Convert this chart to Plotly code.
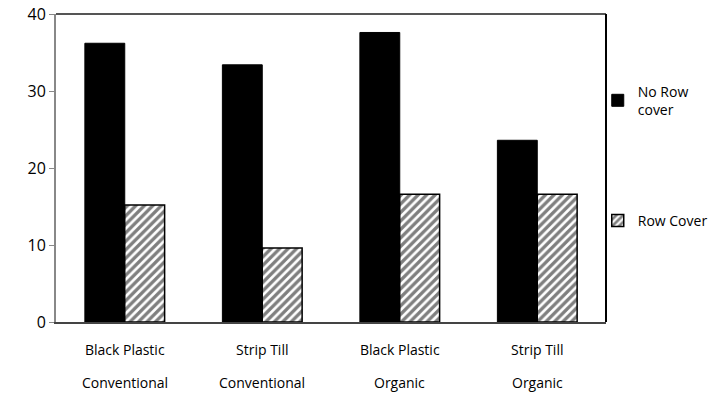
import plotly.graph_objects as go

treatments = ["Black Plastic", "Strip Till", "Black Plastic", "Strip Till"]
systems = ["Conventional", "Conventional", "Organic", "Organic"]
no_row_cover = [36.2, 33.4, 37.6, 23.6]
row_cover = [15.2, 9.6, 16.6, 16.6]
y_ticks = [0, 10, 20, 30, 40]

x = [0, 1, 2, 3]
font = "Open Sans, Liberation Sans, Arial"

fig = go.Figure()
fig.add_trace(go.Bar(
    x=x, y=no_row_cover, name="No Row<br>cover",
    marker=dict(color="black", line=dict(color="black", width=1)),
    legendgroup="a",
))
fig.add_trace(go.Bar(
    x=x, y=row_cover, name="Row Cover",
    marker=dict(color="white", line=dict(color="black", width=1.5),
                pattern=dict(shape="/", fgcolor="black", bgcolor="white",
                             size=6, solidity=0.55)),
    legendgroup="b",
))

# second row of category labels
for xi, s in zip(x, systems):
    fig.add_annotation(x=xi, y=-0.16, xref="x", yref="paper", text=s,
                       showarrow=False, yanchor="top",
                       font=dict(family=font, size=14, color="black"))

fig.update_layout(
    width=712, height=398,
    margin=dict(l=56, r=106, t=14, b=76, autoexpand=False),
    paper_bgcolor="white", plot_bgcolor="white",
    barmode="group", bargap=0.42, bargroupgap=0,
    font=dict(family=font, size=14, color="black"),
    showlegend=True,
    legend=dict(x=0.985, y=0.80, xanchor="left", yanchor="top",
                tracegroupgap=90, font=dict(family=font, size=14),
                itemwidth=30, bgcolor="rgba(0,0,0,0)"),
    xaxis=dict(tickmode="array", tickvals=x, ticktext=treatments,
               range=[-0.5, 3.5], showgrid=False, ticks="",
               ticklabelstandoff=14,
               showline=True, linecolor="#444", linewidth=2, mirror=False,
               tickfont=dict(family=font, size=14)),
    yaxis=dict(range=[0, 40], tickvals=y_ticks, showgrid=False, zeroline=False,
               ticks="outside", ticklen=5, tickcolor="#888",
               showline=True, linecolor="#888", linewidth=2,
               tickfont=dict(family=font, size=16)),
)

# frame: dark top edge and black right edge
fig.add_shape(type="line", xref="paper", yref="paper", x0=0, x1=1, y0=1, y1=1,
              line=dict(color="#555", width=2))
fig.add_shape(type="line", xref="paper", yref="paper", x0=1, x1=1, y0=0, y1=1,
              line=dict(color="black", width=2))

fig.write_html("out.html")
